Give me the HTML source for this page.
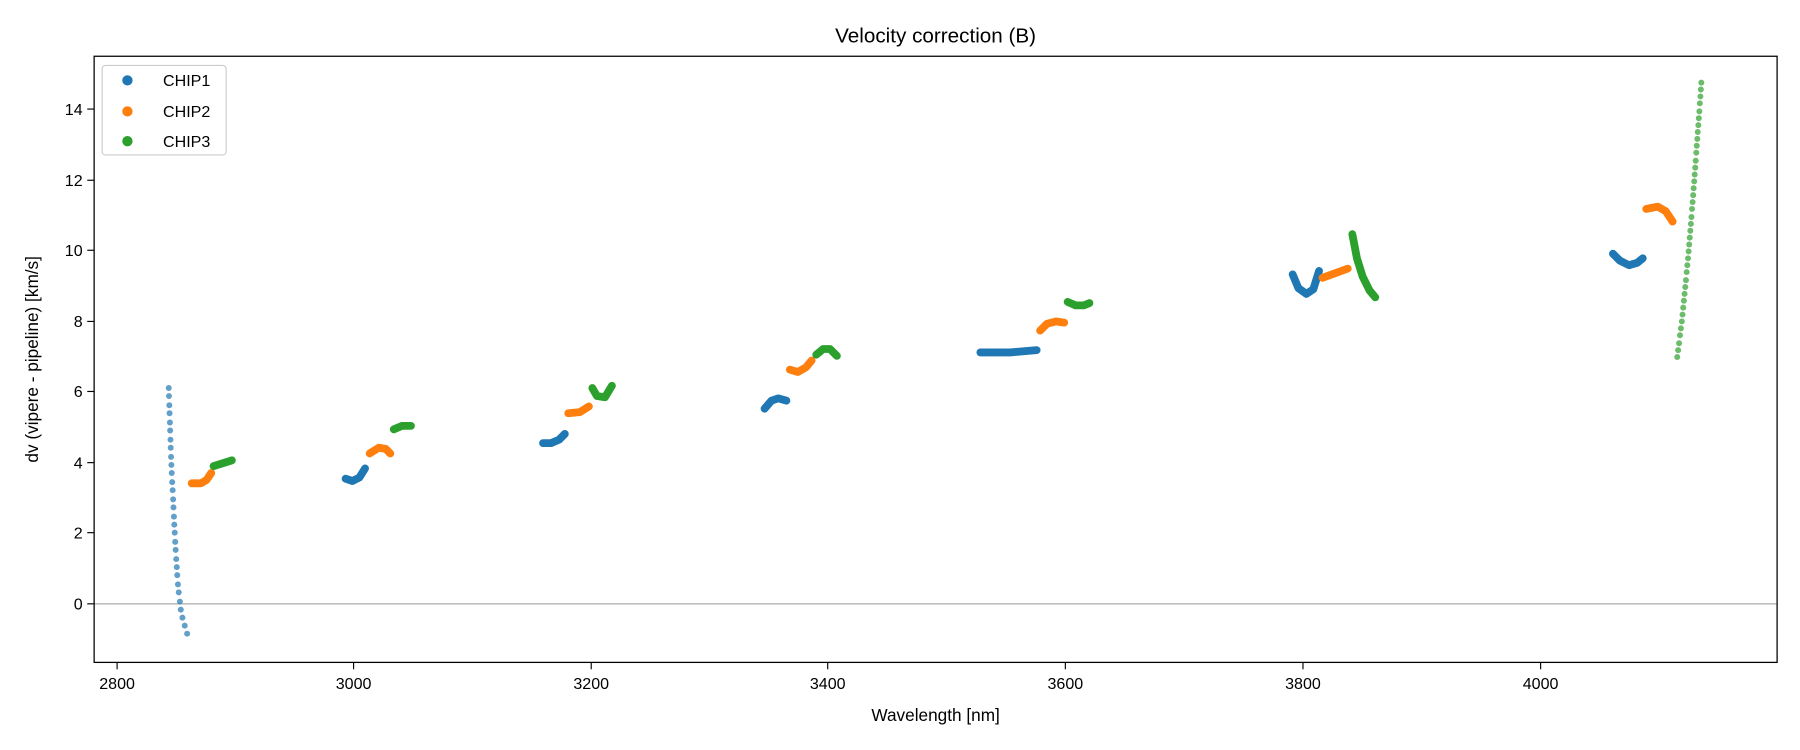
<!DOCTYPE html>
<html><head><style>html,body{margin:0;padding:0;width:1800px;height:750px;overflow:hidden;background:#fff}svg{display:block}text{font-family:"Liberation Sans","DejaVu Sans",sans-serif;fill:#000}</style></head>
<body>
<svg width="1800" height="750" viewBox="0 0 1800 750" xmlns="http://www.w3.org/2000/svg">
<rect width="1800" height="750" fill="#fff"/>
<g transform="scale(1.148)">
<line x1="82" y1="526" x2="1548" y2="526" stroke="#999" stroke-width="0.9"/>
<g fill="none" stroke-linecap="round" stroke-linejoin="round" stroke-width="6.8">
<g stroke="#1f77b4">
<polyline points="301,417 307,419 313,416 318,408"/>
<polyline points="473,386 480,386 487,383 492,378"/>
<polyline points="666,356 672,349 678,347 685,349"/>
<polyline points="854,307 880,307 903,305"/>
<polyline points="1126,239 1131,251 1138,256 1144,252 1149,236"/>
<polyline points="1405,221 1411,227 1419,231 1426,229 1431,225"/>
</g>
<g stroke="#ff7f0e">
<polyline points="167,421 175,421 180,418 184,412"/>
<polyline points="322,395 330,390 336,391 340,395"/>
<polyline points="495,360 505,359 513,354"/>
<polyline points="688,322 695,324 702,320 707,314"/>
<polyline points="906,288 912,282 920,280 927,281"/>
<polyline points="1152,242 1174,234"/>
<polyline points="1434,182 1444,180 1451,184 1457,193"/>
</g>
<g stroke="#2ca02c">
<polyline points="186,406 202,401"/>
<polyline points="343,374 350,371 358,371"/>
<polyline points="516,338 520,345 527,346 533,336"/>
<polyline points="711,309 717,304 723,304 729,310"/>
<polyline points="930,263 937,266 944,266 949,264"/>
<polyline points="1178,204 1182,225 1187,241 1193,253 1198,259"/>
</g>
</g>
<g fill="#1f77b4" fill-opacity="0.7">
<circle cx="147" cy="338" r="2.6"/><circle cx="147.2" cy="345" r="2.6"/><circle cx="147.5" cy="353" r="2.6"/><circle cx="147.7" cy="360" r="2.6"/><circle cx="148" cy="368" r="2.6"/><circle cx="148.2" cy="375" r="2.6"/><circle cx="148.5" cy="383" r="2.6"/><circle cx="148.7" cy="390" r="2.6"/><circle cx="149" cy="398" r="2.6"/><circle cx="149.3" cy="405" r="2.6"/><circle cx="149.6" cy="412" r="2.6"/><circle cx="150" cy="420" r="2.6"/><circle cx="150.4" cy="427" r="2.6"/><circle cx="150.8" cy="435" r="2.6"/><circle cx="151.1" cy="442" r="2.6"/><circle cx="151.5" cy="450" r="2.6"/><circle cx="151.8" cy="457" r="2.6"/><circle cx="152.2" cy="464" r="2.6"/><circle cx="152.6" cy="472" r="2.6"/><circle cx="153" cy="479" r="2.6"/><circle cx="153.5" cy="487" r="2.6"/><circle cx="154" cy="494" r="2.6"/><circle cx="154.4" cy="501" r="2.6"/><circle cx="155" cy="509" r="2.6"/><circle cx="155.7" cy="516" r="2.6"/><circle cx="156.7" cy="524" r="2.6"/><circle cx="157.5" cy="531" r="2.6"/><circle cx="158.9" cy="538" r="2.6"/><circle cx="160.9" cy="545" r="2.6"/><circle cx="163" cy="552" r="2.6"/>
</g>
<g fill="#2ca02c" fill-opacity="0.7">
<circle cx="1461" cy="311" r="2.6"/><circle cx="1461.8" cy="305" r="2.6"/><circle cx="1462.6" cy="299" r="2.6"/><circle cx="1463.4" cy="292" r="2.6"/><circle cx="1464.2" cy="286" r="2.6"/><circle cx="1465" cy="280" r="2.6"/><circle cx="1465.6" cy="274" r="2.6"/><circle cx="1466.2" cy="268" r="2.6"/><circle cx="1466.8" cy="262" r="2.6"/><circle cx="1467.4" cy="256" r="2.6"/><circle cx="1468" cy="250" r="2.6"/><circle cx="1468.6" cy="244" r="2.6"/><circle cx="1469.2" cy="237" r="2.6"/><circle cx="1469.8" cy="231" r="2.6"/><circle cx="1470.4" cy="225" r="2.6"/><circle cx="1470.9" cy="219" r="2.6"/><circle cx="1471.4" cy="213" r="2.6"/><circle cx="1471.9" cy="207" r="2.6"/><circle cx="1472.4" cy="201" r="2.6"/><circle cx="1472.9" cy="195" r="2.6"/><circle cx="1473.4" cy="189" r="2.6"/><circle cx="1473.9" cy="182" r="2.6"/><circle cx="1474.4" cy="176" r="2.6"/><circle cx="1474.9" cy="170" r="2.6"/><circle cx="1475.3" cy="164" r="2.6"/><circle cx="1475.8" cy="158" r="2.6"/><circle cx="1476.2" cy="152" r="2.6"/><circle cx="1476.7" cy="146" r="2.6"/><circle cx="1477.1" cy="140" r="2.6"/><circle cx="1477.6" cy="133" r="2.6"/><circle cx="1478" cy="127" r="2.6"/><circle cx="1478.5" cy="121" r="2.6"/><circle cx="1478.9" cy="115" r="2.6"/><circle cx="1479.4" cy="109" r="2.6"/><circle cx="1479.8" cy="103" r="2.6"/><circle cx="1480.3" cy="97" r="2.6"/><circle cx="1480.7" cy="90" r="2.6"/><circle cx="1481.2" cy="84" r="2.6"/><circle cx="1481.6" cy="78" r="2.6"/><circle cx="1482" cy="72" r="2.6"/>
</g>
<rect x="82" y="49" width="1466" height="528" fill="none" stroke="#000" stroke-width="1.1"/>
<g stroke="#000" stroke-width="1">
<line x1="102" y1="577" x2="102" y2="583"/><line x1="308" y1="577" x2="308" y2="583"/><line x1="515" y1="577" x2="515" y2="583"/><line x1="721" y1="577" x2="721" y2="583"/><line x1="928" y1="577" x2="928" y2="583"/><line x1="1135" y1="577" x2="1135" y2="583"/><line x1="1342" y1="577" x2="1342" y2="583"/>
<line x1="76" y1="526" x2="82" y2="526"/><line x1="76" y1="464" x2="82" y2="464"/><line x1="76" y1="403" x2="82" y2="403"/><line x1="76" y1="341" x2="82" y2="341"/><line x1="76" y1="280" x2="82" y2="280"/><line x1="76" y1="218" x2="82" y2="218"/><line x1="76" y1="157" x2="82" y2="157"/><line x1="76" y1="95" x2="82" y2="95"/>
</g>
<g font-size="14" text-anchor="middle">
<text x="102" y="600">2800</text><text x="308" y="600">3000</text><text x="515" y="600">3200</text><text x="721" y="600">3400</text><text x="928" y="600">3600</text><text x="1135" y="600">3800</text><text x="1342" y="600">4000</text>
</g>
<g font-size="14" text-anchor="end">
<text x="72" y="531">0</text><text x="72" y="469">2</text><text x="72" y="408">4</text><text x="72" y="346">6</text><text x="72" y="285">8</text><text x="72" y="223">10</text><text x="72" y="162">12</text><text x="72" y="100">14</text>
</g>
<text x="815" y="37" font-size="18" text-anchor="middle">Velocity correction (B)</text>
<text x="815" y="628" font-size="15" text-anchor="middle">Wavelength [nm]</text>
<text transform="translate(33,313) rotate(-90)" font-size="15" text-anchor="middle">dv (vipere - pipeline) [km/s]</text>
<rect x="89" y="57" width="108" height="78" rx="3" fill="#fff" fill-opacity="0.8" stroke="#ccc"/>
<circle cx="111" cy="70" r="4.5" fill="#1f77b4"/><circle cx="111" cy="97" r="4.5" fill="#ff7f0e"/><circle cx="111" cy="123" r="4.5" fill="#2ca02c"/>
<g font-size="14"><text x="142" y="75">CHIP1</text><text x="142" y="102">CHIP2</text><text x="142" y="128">CHIP3</text></g>
</g>
</svg>
</body></html>
